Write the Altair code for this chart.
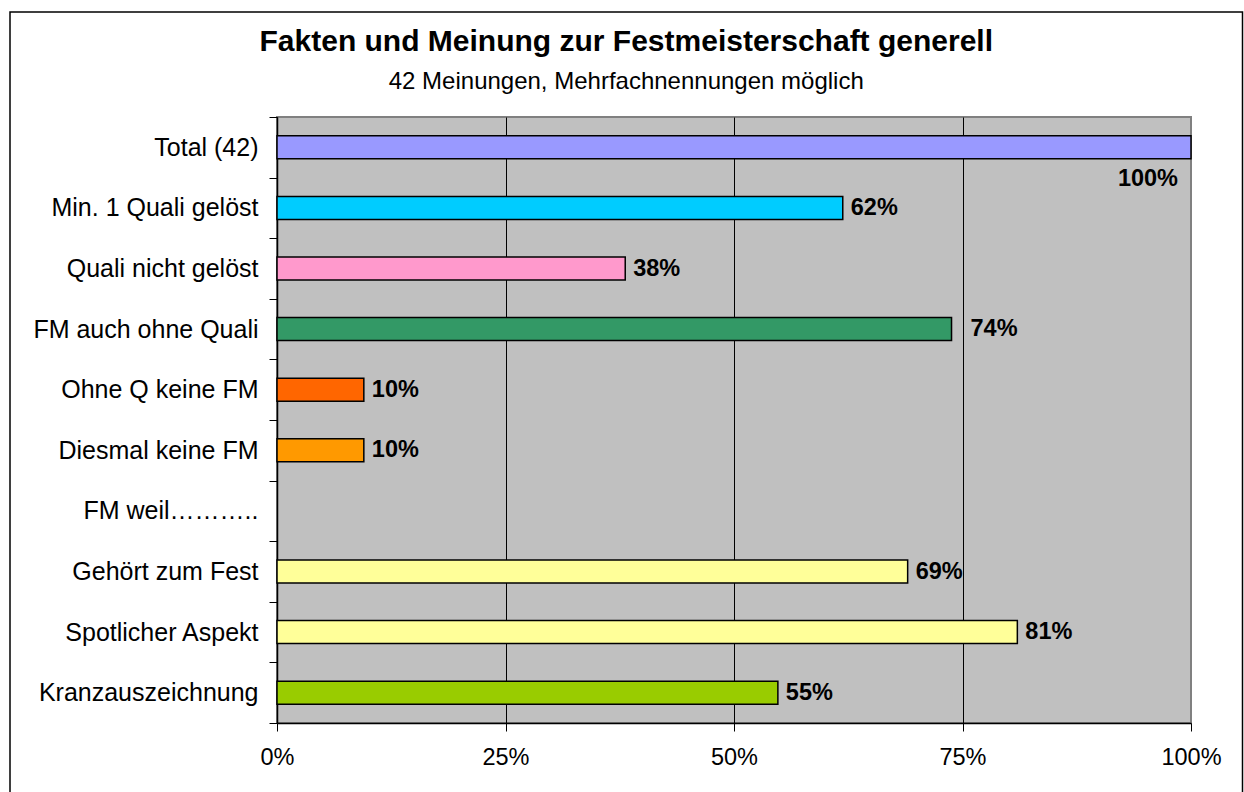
import altair as alt
import pandas as pd

categories = ["Total (42)", "Min. 1 Quali gelöst", "Quali nicht gelöst", "FM auch ohne Quali",
              "Ohne Q keine FM", "Diesmal keine FM", "FM weil………..", "Gehört zum Fest",
              "Spotlicher Aspekt", "Kranzauszeichnung"]
values = [1.0, 0.619, 0.381, 0.738, 0.095, 0.095, None, 0.690, 0.810, 0.548]
colors = ["#9999FF", "#00CCFF", "#FF99CC", "#339966", "#FF6600", "#FF9900", "#C0C0C0",
          "#FFFF99", "#FFFF99", "#99CC00"]
x_ticks = [0, 0.25, 0.5, 0.75, 1.0]

df = pd.DataFrame({"cat": categories, "val": values, "color": colors})
bars_df = df.dropna()

FONT = "Liberation Sans"

y_enc = alt.Y("cat:N", sort=categories, scale=alt.Scale(domain=categories, paddingInner=0, paddingOuter=0),
              axis=alt.Axis(title=None, labelFont=FONT, labelFontSize=25, labelColor="black",
                            labelPadding=11, tickSize=8, tickColor="black", tickWidth=1,
                            tickBand="extent", domainColor="black", domainWidth=1.5,
                            labelLimit=300))
x_scale = alt.Scale(domain=[0, 1], nice=False)
x_axis = alt.Axis(title=None, values=x_ticks, format=".0%", labelFont=FONT, labelFontSize=23.5,
                  labelColor="black", labelPadding=14, tickSize=8, tickColor="black",
                  domainColor="black", domainWidth=1.5, grid=True,
                  gridColor={"condition": {"test": "datum.value >= 1", "value": "#808080"}, "value": "black"},
                  gridWidth=1, gridOpacity=1, labelFlush=False)

bars = alt.Chart(bars_df).mark_bar(height={"band": 0.38}, stroke="black", strokeWidth=1.5).encode(
    x=alt.X("val:Q", scale=x_scale, axis=x_axis),
    y=y_enc,
    color=alt.Color("color:N", scale=None),
)

text_base = alt.Chart(bars_df).encode(
    x=alt.X("val:Q", scale=x_scale),
    y=alt.Y("cat:N", sort=categories),
    text=alt.Text("val:Q", format=".0%"),
)
labels = text_base.transform_filter(
    "datum.cat != 'Total (42)' && datum.cat != 'FM auch ohne Quali'"
).mark_text(align="left", baseline="middle", dx=8, font=FONT, fontSize=23.5, fontWeight="bold", color="black")
label_fm = text_base.transform_filter("datum.cat == 'FM auch ohne Quali'").mark_text(
    align="left", baseline="middle", dx=19, font=FONT, fontSize=23.5, fontWeight="bold", color="black")
label_total = text_base.transform_filter("datum.cat == 'Total (42)'").mark_text(
    align="right", baseline="middle", dx=-13, dy=32, font=FONT, fontSize=23.5, fontWeight="bold", color="black")

frame = alt.Chart(pd.DataFrame({"a": [0]})).mark_rect(fill=None, stroke="black", strokeWidth=1.5).encode(
    x=alt.value(-267), x2=alt.value(965.5), y=alt.value(-105), y2=alt.value(700)
)

chart = alt.layer(bars, labels, label_fm, label_total, frame).properties(
    width=914, height=606,
    padding={"left": 277, "top": 117, "right": 53, "bottom": 69},
    autosize=alt.AutoSizeParams(type="none"),
    background="white",
    title=alt.TitleParams(
        text="Fakten und Meinung zur Festmeisterschaft generell",
        subtitle="42 Meinungen, Mehrfachnennungen möglich",
        font=FONT, fontSize=30, fontWeight="bold", color="black",
        subtitleFont=FONT, subtitleFontSize=24, subtitleColor="black",
        anchor="middle", frame="bounds", offset=-83, subtitlePadding=13,
    ),
).configure_view(fill="#C0C0C0", stroke="#808080", strokeWidth=2)

chart.save("out.html", embed_options={"renderer": "svg", "actions": False})
